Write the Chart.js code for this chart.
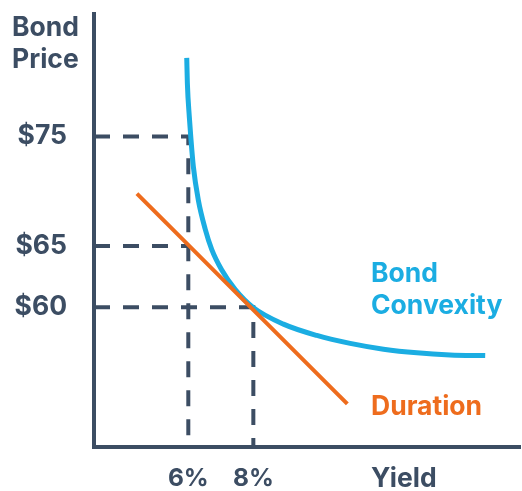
<!DOCTYPE html>
<html>
<head>
<meta charset="utf-8">
<script src="https://cdn.jsdelivr.net/npm/chart.js@4/dist/chart.umd.min.js"></script>
<style>
  html, body { margin: 0; padding: 0; background: #fff; }
  #chart { display: block; }
</style>
</head>
<body>
<canvas id="chart" width="522" height="491"></canvas>
<script>
// values
const convexYield = [5.952, 5.971, 6.032, 6.075, 6.155, 6.309, 6.515, 6.722, 7.029, 7.438, 8.002, 8.925, 9.952, 10.977, 12.002, 13.03, 14.05, 15.13];
const convexPrice = [83.1, 80.4, 76.9, 75.0, 72.1, 69.0, 66.5, 64.7, 63.0, 61.43, 59.98, 58.7, 57.84, 57.24, 56.81, 56.54, 56.39, 56.34];

const durationYield = [4.42, 10.89];
const durationPrice = [69.6, 52.9];

const priceTicks = [75, 65, 60];
const yieldTicks = [6, 8];

// dashed guides: price level -> yield where it meets, and whether it drops to the x axis
const guidePrice = [75, 65, 60];
const guideYield = [6, 6, 8];
const guideDrop = [true, false, true];

const yieldMin = 3.1, yieldMax = 16.2;
const priceMin = 50, priceMax = 88;

const slate = "#3c4d63";
const blue = "#1badE2";
const orange = "#ee6c1d";
const font = "Inter";

function pts(xs, ys) {
    return xs.map((x, i) => ({ x: x, y: ys[i] }));
}

const guideSets = guidePrice.map((p, i) => {
    const d = [{ x: yieldMin, y: p }, { x: guideYield[i], y: p }];
    if (guideDrop[i]) d.push({ x: guideYield[i], y: priceMin });
    return {
        data: d,
        borderColor: slate,
        borderWidth: 4,
        borderDash: [16, 13],
        pointRadius: 0,
        tension: 0,
        order: 3
    };
});

// free text: axis names and line names
const notes = {
    id: "notes",
    afterDraw(chart) {
        const ctx = chart.ctx;
        ctx.save();
        ctx.font = "bold 26.5px " + font;
        ctx.textBaseline = "alphabetic";
        ctx.fillStyle = slate;
        ctx.fillText("Bond", 12, 36);
        ctx.fillText("Price", 12, 68);
        ctx.fillText("Yield", 371, 487);
        ctx.fillStyle = blue;
        ctx.fillText("Bond", 371, 282);
        ctx.fillText("Convexity", 371, 314);
        ctx.fillStyle = orange;
        ctx.fillText("Duration", 371, 415);
        ctx.restore();
    }
};

const chart = new Chart(document.getElementById("chart"), {
    type: "line",
    data: {
        datasets: [
            {
                data: pts(convexYield, convexPrice),
                borderColor: blue,
                borderWidth: 5,
                pointRadius: 0,
                cubicInterpolationMode: "monotone",
                order: 2
            },
            {
                data: pts(durationYield, durationPrice),
                borderColor: orange,
                borderWidth: 4,
                pointRadius: 0,
                order: 1
            },
            ...guideSets
        ]
    },
    options: {
        responsive: false,
        animation: false,
        devicePixelRatio: 1,
        layout: { padding: { top: 14, right: 2, left: 0, bottom: 0 } },
        plugins: {
            legend: { display: false },
            tooltip: { enabled: false }
        },
        scales: {
            x: {
                type: "linear",
                min: yieldMin,
                max: yieldMax,
                grid: { display: false, drawTicks: false },
                border: { display: true, color: slate, width: 4 },
                afterBuildTicks: s => { s.ticks = yieldTicks.map(v => ({ value: v })); },
                afterFit: s => { s.height = 44; s.paddingLeft = 0; s.paddingRight = 0; },
                ticks: {
                    color: slate,
                    padding: 17,
                    font: { family: font, weight: "bold", size: 24.5 },
                    callback: v => v + "%"
                }
            },
            y: {
                type: "logarithmic",
                min: priceMin,
                max: priceMax,
                grid: { display: false, drawTicks: false },
                border: { display: true, color: slate, width: 4 },
                afterBuildTicks: s => { s.ticks = priceTicks.map(v => ({ value: v })); },
                afterFit: s => { s.width = 94; s.paddingTop = 0; s.paddingBottom = 0; },
                ticks: {
                    color: slate,
                    padding: 27,
                    font: { family: font, weight: "bold", size: 26.5 },
                    callback: v => "$" + v
                }
            }
        }
    },
    plugins: [notes]
});
</script>
</body>
</html>
